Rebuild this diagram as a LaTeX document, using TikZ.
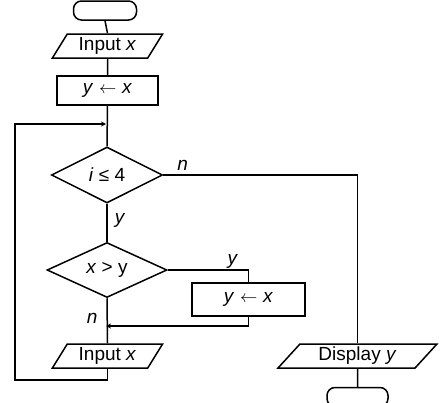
\documentclass[tikz,border=0pt]{standalone}
\usepackage{fontspec}
\setmainfont{Liberation Sans}
\usetikzlibrary{shapes.geometric,arrows.meta,calc}
\newcommand{\assignarrow}{\hspace{0.3em}$\leftarrow$\hspace{0.3em}}
\begin{document}
\begin{tikzpicture}[x=1pt,y=-1pt,
  line width=1.5pt,
  every node/.style={font=\fontsize{19}{21}\selectfont, inner sep=0pt},
  term/.style={draw, rounded corners=8pt, minimum width=63pt, minimum height=19pt},
  procbox/.style={draw, rectangle, minimum width=#1, minimum height=29pt},
  iobox/.style={draw, trapezium, trapezium stretches=true, minimum height=24pt},
  decis/.style={draw, diamond, aspect=2},
  lab/.style={font=\fontsize{19}{21}\selectfont\itshape},
  tip/.style={-{Stealth[length=5pt,width=5pt]}}
]
\useasboundingbox (0,0) rectangle (441,402);
\node[term] (start) at (105,10.5) {};
\node[iobox, minimum width=111pt, trapezium left angle=58, trapezium right angle=122] (in1) at (107.5,46) {Input \textit{x}};
\node[procbox=101pt] (box1) at (107.5,90.5) {\textit{y}\assignarrow\textit{x}};
\coordinate (J1) at (106,124);
\node[decis, minimum width=111pt, minimum height=56pt] (d1) at (107,175) {\textit{i} ≤ 4};
\node[decis, minimum width=120pt, minimum height=55pt] (d2) at (107,270) {\textit{x} > y};
\node[procbox=113pt, minimum height=33pt] (box2) at (248.5,299.5) {\textit{y}\assignarrow\textit{x}};
\coordinate (J2) at (106,326);
\node[iobox, minimum width=111pt, trapezium left angle=58, trapezium right angle=122] (in2) at (107.5,356) {Input \textit{x}};
\node[iobox, minimum width=159pt, trapezium left angle=50, trapezium right angle=130] (disp) at (357.5,356) {Display \textit{y}};
\node[term, minimum width=61pt] (end) at (357.5,397) {};
\coordinate (L1) at (15,380);
\coordinate (L2) at (15,124);

\draw (start.south) -- (in1.north);
\draw (in1.south) -- (box1.north);
\draw (box1.south) -- (d1.north);
\draw (d1.south) -- node[lab, right=7pt, pos=0.45] {y} (d2.north);
\draw (d2.east) -| node[lab, above, pos=0.4, yshift=1pt] {y} (box2.north);
\draw[tip] (box2.south) |- (J2);
\draw (d2.south) -- (in2.north);
\node[lab, left=9pt] (nlab) at ($(d2.south)!0.45!(in2.north)$) {n};
\draw[tip] (in2.south) |- (L1) |- (J1);
\draw (d1.east) -| node[lab, above, pos=0.05, yshift=4pt] {n} (disp.north);
\draw (disp.south) -- (end.north);
\end{tikzpicture}
\end{document}
